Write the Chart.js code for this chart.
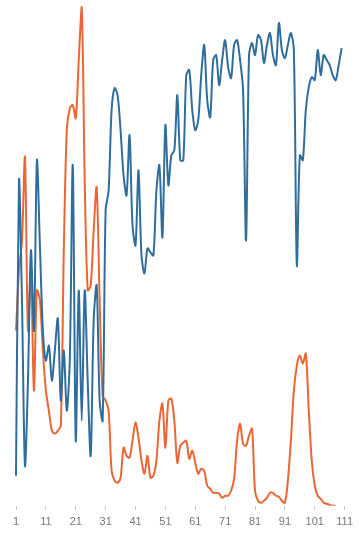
<!DOCTYPE html>
<html>
<head>
<meta charset="utf-8">
<script src="https://cdn.jsdelivr.net/npm/chart.js@4/dist/chart.umd.min.js"></script>
<style>
html,body{margin:0;padding:0;background:#fff;}
#wrap{width:359px;height:537px;}
</style>
</head>
<body>
<div id="wrap"><canvas id="c" width="359" height="537"></canvas></div>
<script>
const categories = Array.from({length: 111}, (_, i) => String(i + 1));
const tickLabels = ["1","11","21","31","41","51","61","71","81","91","101","111"];
const blueSeries = [6,65,41,8,25,51,35,69,52,35,29,32,25,31,37.4,21,31,19,29,68,
13,43,17,43,25,10,37,44,21,17,59,63,79,83.4,82,75,66,62,74,56,
52,67,50,46.4,51.4,50.6,50,63,68,53.6,76,64,70,71,82,69,69,86,87,79,
75,77,86,92,81,77.6,89,90,84,89,93,87.6,85.4,92,93,89,83,53,90,92.4,
90,94,93,88.4,92,94.4,90,88,96.4,91,89.4,92,94.4,91,48,70,69,79,83.6,85.6,
85,91,86,90,89,88,86,85,88,91.4];
const orangeSeries = [35,47,53,69.6,35,47,23,43,41,31,23,19,15,14.4,15,16,51,75,79.4,80,
77.4,89,99.6,65,43,44,55,63.6,41,22,21,19,7,5,4.6,5.6,11.6,10,9.6,13,
16.6,13.6,9,6.4,10,5.6,6,9,17,20.4,11.6,21,21.4,17,8.6,12,12.6,13,9.4,11,
8.6,6.4,7.4,7,4,3.4,2.6,2.6,2.4,1.6,2,2,3,5.4,13,16.4,12.4,12,14,15.4,
3,1,0.6,1,1.6,2.6,2.6,2,1.8,1,0.6,5,13,23,28,30,28.4,30.4,19,9,
4,2,1.4,0.6,0.4,0.2,0,0];

new Chart(document.getElementById('c'), {
  type: 'line',
  data: {
    labels: categories,
    datasets: [
      {data: blueSeries, borderColor: '#2f6e9c', borderWidth: 2, pointRadius: 0, tension: 0.3, fill: false},
      {data: orangeSeries, borderColor: '#ea6634', borderWidth: 2, pointRadius: 0, tension: 0.3, fill: false}
    ]
  },
  options: {
    responsive: false,
    animation: false,
    layout: {padding: {top: 5, left: 16, right: 11, bottom: 2}},
    plugins: {legend: {display: false}, tooltip: {enabled: false}},
    scales: {
      y: {display: false, min: 0, max: 100},
      x: {
        offset: false,
        border: {display: false},
        grid: {drawOnChartArea: false, drawTicks: true, tickLength: 4, color: '#c8c8c8'},
        ticks: {
          autoSkip: false, maxRotation: 0, padding: 6,
          color: '#777', font: {family: 'Liberation Sans, Arial, sans-serif', size: 11},
          callback: function(v, i) {
            const lab = this.getLabelForValue(v);
            return tickLabels.includes(lab) ? lab : null;
          }
        }
      }
    }
  }
});
</script>
</body>
</html>
